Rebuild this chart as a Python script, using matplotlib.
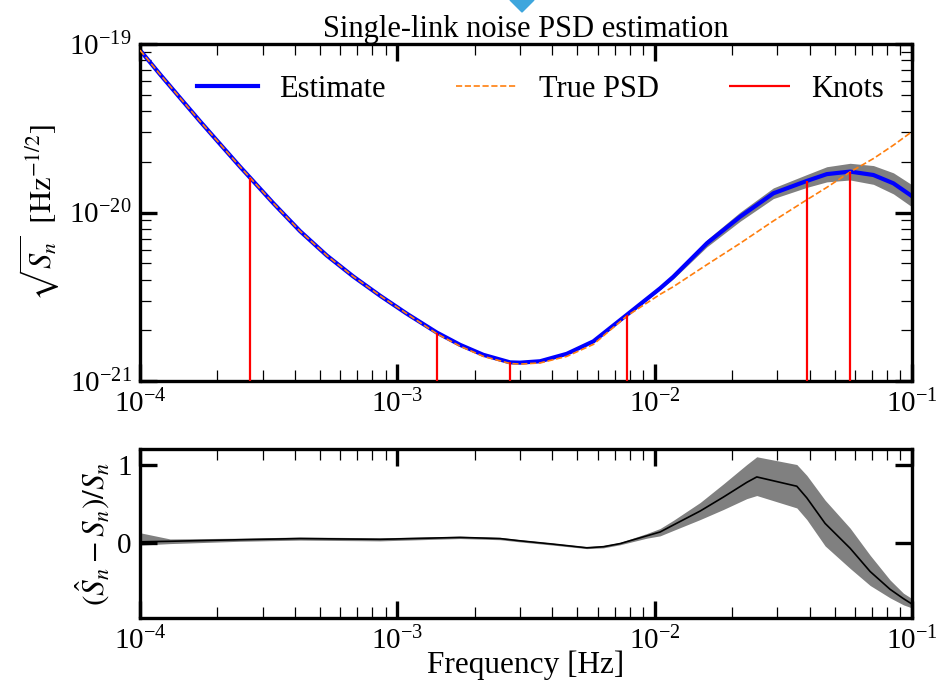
import numpy as np
import matplotlib
matplotlib.use("Agg")
import matplotlib.pyplot as plt
from matplotlib.patches import Polygon

plt.rcParams['font.family'] = ['Liberation Serif', 'DejaVu Serif']
plt.rcParams['mathtext.fontset'] = 'stix'

# frequency grid of the top panel [Hz]
freq = [1.000e-4, 1.196e-4, 1.431e-4, 1.711e-4, 2.046e-4, 2.447e-4, 2.677e-4,
        3.297e-4, 4.185e-4, 5.317e-4, 6.745e-4, 8.566e-4, 1.088e-3, 1.423e-3,
        1.752e-3, 2.159e-3, 2.742e-3, 2.999e-3, 3.586e-3, 4.553e-3, 5.779e-3,
        7.791e-3, 1.050e-2, 1.182e-2, 1.594e-2, 2.147e-2, 2.892e-2, 3.901e-2,
        4.666e-2, 5.747e-2, 7.079e-2, 8.467e-2, 1.000e-1]
estimate = [9.20e-20, 6.61e-20, 4.79e-20, 3.48e-20, 2.55e-20, 1.87e-20, 1.61e-20,
            1.135e-20, 7.76e-21, 5.56e-21, 4.17e-21, 3.21e-21, 2.51e-21, 1.94e-21,
            1.64e-21, 1.43e-21, 1.29e-21, 1.285e-21, 1.31e-21, 1.45e-21, 1.72e-21,
            2.47e-21, 3.55e-21, 4.16e-21, 6.56e-21, 9.44e-21, 1.30e-20, 1.54e-20,
            1.69e-20, 1.75e-20, 1.67e-20, 1.49e-20, 1.25e-20]
true_psd = [9.20e-20, 6.61e-20, 4.79e-20, 3.48e-20, 2.55e-20, 1.87e-20, 1.61e-20,
            1.135e-20, 7.76e-21, 5.56e-21, 4.17e-21, 3.21e-21, 2.51e-21, 1.91e-21,
            1.61e-21, 1.40e-21, 1.27e-21, 1.26e-21, 1.28e-21, 1.40e-21, 1.65e-21,
            2.43e-21, 3.27e-21, 3.63e-21, 4.90e-21, 6.56e-21, 8.91e-21, 1.19e-20,
            1.41e-20, 1.74e-20, 2.09e-20, 2.51e-20, 3.02e-20]

# credible band of the estimate (high-frequency part, hidden under the line below)
band_freq = [5.779e-3, 7.791e-3, 1.050e-2, 1.182e-2, 1.594e-2, 2.147e-2, 2.892e-2,
             3.901e-2, 4.666e-2, 5.747e-2, 7.079e-2, 8.467e-2, 1.000e-1]
band_hi = [1.74e-21, 2.50e-21, 3.62e-21, 4.29e-21, 6.89e-21, 1.005e-20, 1.40e-20,
           1.68e-20, 1.87e-20, 1.96e-20, 1.90e-20, 1.72e-20, 1.46e-20]
band_lo = [1.69e-21, 2.43e-21, 3.48e-21, 4.04e-21, 6.25e-21, 8.87e-21, 1.21e-20,
           1.41e-20, 1.52e-20, 1.56e-20, 1.47e-20, 1.29e-20, 1.08e-20]

knot_freq = [2.677e-4, 1.423e-3, 2.742e-3, 7.791e-3, 3.901e-2, 5.747e-2]
knot_val = [1.61e-20, 1.94e-21, 1.29e-21, 2.47e-21, 1.54e-20, 1.75e-20]

# relative residual panel
res_freq = [1.000e-4, 1.308e-4, 2.447e-4, 4.185e-4, 8.566e-4, 1.752e-3, 2.507e-3,
            2.999e-3, 4.039e-3, 5.447e-3, 6.318e-3, 7.337e-3, 9.318e-3, 1.050e-2,
            1.182e-2, 1.502e-2, 1.849e-2, 2.280e-2, 2.493e-2, 3.567e-2, 3.901e-2,
            4.595e-2, 5.747e-2, 6.874e-2, 8.221e-2, 9.262e-2, 1.000e-1]
res_mid = [0.013, 0.02, 0.04, 0.055, 0.045, 0.07, 0.055, 0.026, -0.017, -0.064,
           -0.05, -0.01, 0.09, 0.14, 0.23, 0.41, 0.59, 0.78, 0.85, 0.73, 0.58,
           0.25, -0.07, -0.37, -0.60, -0.72, -0.79]
res_hi = [0.13, 0.05, 0.06, 0.075, 0.065, 0.085, 0.07, 0.04, -0.005, -0.05,
          -0.035, 0.005, 0.12, 0.185, 0.29, 0.52, 0.76, 1.01, 1.11, 1.01, 0.87,
          0.55, 0.19, -0.16, -0.48, -0.65, -0.72]
res_lo = [-0.03, -0.01, 0.02, 0.035, 0.025, 0.055, 0.04, 0.012, -0.03, -0.075,
          -0.065, -0.025, 0.06, 0.09, 0.16, 0.30, 0.43, 0.57, 0.61, 0.45, 0.30,
          -0.04, -0.33, -0.55, -0.71, -0.80, -0.84]

fig = plt.figure(figsize=(9.41, 6.87), dpi=100)
ax1 = fig.add_axes([0.1488, 0.4454, 0.8204, 0.4905])
ax2 = fig.add_axes([0.1488, 0.1004, 0.8204, 0.2460])

ax1.fill_between(band_freq, band_lo, band_hi, color='gray', lw=0, zorder=1)
ax1.plot(freq, estimate, color='blue', lw=3, label='Estimate', zorder=2)
ax1.plot(freq, true_psd, color='#ff7f0e', lw=1.2, ls='--', label='True PSD', zorder=3)
ax1.vlines(knot_freq, 1e-21, knot_val, color='red', lw=1.6, label='Knots', zorder=4)
ax1.set_xscale('log')
ax1.set_yscale('log')
ax1.set_xlim(1e-4, 1e-1)
ax1.set_ylim(1e-21, 1e-19)
ax1.set_ylabel(r'$\sqrt{S_n}\ \ [\mathrm{Hz}^{-1/2}]$', fontsize=22, labelpad=6)
ax1.set_title('Single-link noise PSD estimation', fontsize=22, pad=3)
ax1.legend(loc='upper center', bbox_to_anchor=(0.519, 0.99), ncol=3, frameon=False,
           fontsize=22, handlelength=2.0, handletextpad=0.7, columnspacing=2.3)

ax2.fill_between(res_freq, res_lo, res_hi, color='gray', lw=0)
ax2.plot(res_freq, res_mid, color='black', lw=1.2)
ax2.set_xscale('log')
ax2.set_xlim(1e-4, 1e-1)
ax2.set_ylim(-0.97, 1.21)
ax2.set_yticks([0, 1])
ax2.set_xlabel('Frequency [Hz]', fontsize=22.5, labelpad=-3)
ax2.set_ylabel(r'$(\hat{S}_n - S_n)/S_n$', fontsize=22.5, labelpad=4)

for ax in (ax1, ax2):
    for sp in ax.spines.values():
        sp.set_linewidth(2.4)
    ax.tick_params(which='both', direction='in', top=True, right=True, labelsize=21)
    ax.tick_params(which='major', length=12, width=2.4, pad=6)
    ax.tick_params(which='minor', length=8, width=0.9)

fig.align_ylabels([ax1, ax2])

# small marker above the title
fig.add_artist(Polygon([[510 / 941, 1.0], [534 / 941, 1.0], [522 / 941, 1 - 12 / 687]],
                       closed=True, transform=fig.transFigure, color='#3ea6dd', clip_on=False))

fig.savefig('out.png', dpi=100)
